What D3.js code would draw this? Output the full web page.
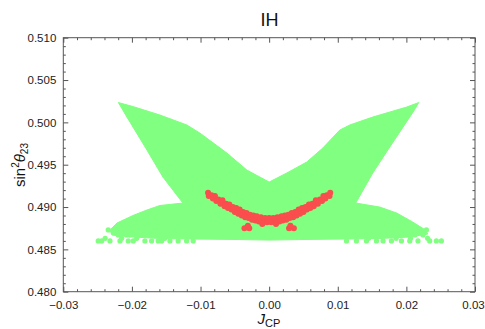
<!DOCTYPE html>
<html>
<head>
<meta charset="utf-8">
<script src="https://cdn.jsdelivr.net/npm/d3@7"></script>
<style>
  html, body { margin: 0; padding: 0; background: #fff; }
  svg { display: block; font-family: "Liberation Sans", Arial, sans-serif; }
</style>
</head>
<body>
<svg id="chart" width="485" height="329"></svg>
<script>
// ---------------- data ----------------
const xDomain = [-0.03, 0.03];
const yDomain = [0.480, 0.510];
const xMajorTicks = [-0.03, -0.02, -0.01, 0.00, 0.01, 0.02, 0.03];
const xTickLabels = ["\u22120.03", "\u22120.02", "\u22120.01", "0.00", "0.01", "0.02", "0.03"];
const yMajorTicks = [0.480, 0.485, 0.490, 0.495, 0.500, 0.505, 0.510];
const yTickLabels = ["0.480", "0.485", "0.490", "0.495", "0.500", "0.505", "0.510"];
const xMinorTicks = [-0.028,-0.026,-0.024,-0.022,-0.018,-0.016,-0.014,-0.012,-0.008,-0.006,-0.004,-0.002,
                     0.002,0.004,0.006,0.008,0.012,0.014,0.016,0.018,0.022,0.024,0.026,0.028];
const yMinorTicks = [0.481,0.482,0.483,0.484,0.486,0.487,0.488,0.489,0.491,0.492,0.493,0.494,
                     0.496,0.497,0.498,0.499,0.501,0.502,0.503,0.504,0.506,0.507,0.508,0.509];

// dense green (all scanned points) region: outline [J, sin^2 theta23]
const greenRegion = [
  [-0.02197,0.50234],[-0.01985,0.50187],[-0.01592,0.50087],[-0.01199,0.49969],[-0.01010,0.49874],
  [-0.00616,0.49638],[-0.00325,0.49437],[0.00000,0.49295],[0.00257,0.49402],[0.00549,0.49532],
  [0.00782,0.49697],[0.01029,0.49909],[0.01175,0.49969],[0.01510,0.50063],[0.01758,0.50122],
  [0.02005,0.50181],[0.02180,0.50234],[0.02107,0.50134],[0.01758,0.49709],[0.01510,0.49402],
  [0.01262,0.49047],[0.01612,0.49000],[0.01859,0.48929],[0.02092,0.48823],[0.02267,0.48734],
  [0.02311,0.48681],[0.02049,0.48646],[0.01612,0.48628],[0.01102,0.48622],[0.00447,0.48616],
  [0.00000,0.48610],[-0.00427,0.48616],[-0.01097,0.48622],[-0.01592,0.48628],[-0.01981,0.48646],
  [-0.02291,0.48669],[-0.02320,0.48728],[-0.02218,0.48811],[-0.01985,0.48900],[-0.01781,0.48965],
  [-0.01592,0.49018],[-0.01257,0.49047],[-0.01548,0.49354],[-0.01781,0.49673],[-0.02073,0.50063]
];
// sparse green points on the lower fringe
const greenFringeJ = [
  -0.02491,-0.02441,-0.02320,-0.02174,-0.02054,-0.01981,-0.01811,-0.01713,-0.01617,-0.01567,-0.01446,-0.01326,-0.01203,-0.01107,
  0.01127,0.01272,0.01418,0.01564,0.01660,0.01782,0.01928,0.02049,0.02169,0.02340,0.02437,0.02510,
  -0.02199,-0.02077,-0.02029,-0.01883,-0.01737,-0.01640,
  0.01612,0.01805,0.01951,0.02122,0.02242,
  -0.02345,-0.02248,-0.02127,0.02092,0.02194,0.02292,
  -0.02390,-0.02150,-0.01930,-0.01520,0.01450,0.01850,0.02060,0.02310
];
const greenFringeS = [
  0.4860,0.4860,0.4860,0.4860,0.4860,0.4860,0.4860,0.4860,0.4860,0.4860,0.4860,0.4860,0.4860,0.4860,
  0.4860,0.4860,0.4860,0.4860,0.4860,0.4860,0.4860,0.4860,0.4860,0.4860,0.4860,0.4860,
  0.4867,0.4867,0.4867,0.4867,0.4867,0.4867,
  0.4867,0.4867,0.4867,0.4867,0.4867,
  0.4873,0.4873,0.4873,0.4873,0.4873,0.4873,
  0.4863,0.4863,0.4863,0.4863,0.4863,0.4863,0.4863,0.4863
];

// red (constrained) points
const redJ = [
  -0.0089,-0.0084,-0.0079,-0.0074,-0.0068,-0.0063,-0.0058,-0.0053,-0.0048,-0.0043,-0.0038,-0.0033,-0.0028,-0.0023,-0.0018,-0.0012,-0.0006,0.0000,
  -0.0088,-0.0082,-0.0077,-0.0071,-0.0065,-0.0060,-0.0055,-0.0050,-0.0045,-0.0040,-0.0035,-0.0030,-0.0025,-0.0020,-0.0015,-0.0009,-0.0003,
  0.0089,0.0084,0.0079,0.0074,0.0068,0.0063,0.0058,0.0053,0.0048,0.0043,0.0038,0.0033,0.0028,0.0023,0.0018,0.0012,0.0006,
  0.0088,0.0082,0.0077,0.0071,0.0065,0.0060,0.0055,0.0050,0.0045,0.0040,0.0035,0.0030,0.0025,0.0020,0.0015,0.0009,0.0003,
  -0.0036,-0.0029,-0.0031,0.0036,0.0029,0.0031,-0.0010,0.0010
];
const redS = [
  0.4917,0.4914,0.4913,0.4909,0.4908,0.4904,0.4903,0.4900,0.4899,0.4897,0.4894,0.4893,0.4891,0.4890,0.4889,0.4888,0.4887,0.4887,
  0.4913,0.4910,0.4907,0.4904,0.4901,0.4899,0.4897,0.4894,0.4892,0.4890,0.4888,0.4887,0.4885,0.4884,0.4883,0.4882,0.4882,
  0.4917,0.4914,0.4913,0.4909,0.4908,0.4904,0.4903,0.4900,0.4899,0.4897,0.4894,0.4893,0.4891,0.4890,0.4889,0.4888,0.4887,
  0.4913,0.4910,0.4907,0.4904,0.4901,0.4899,0.4897,0.4894,0.4892,0.4890,0.4888,0.4887,0.4885,0.4884,0.4883,0.4882,0.4882,
  0.4875,0.4875,0.4878,0.4875,0.4875,0.4878,0.4880,0.4880
];

// ---------------- drawing ----------------
const GREEN = "#80ff80", RED = "#fa4d4d", FRAME = "#555";
const plot = { left: 63.3, right: 475, top: 37.7, bottom: 291.7 };
const svg = d3.select("#chart");
const x = d3.scaleLinear().domain(xDomain).range([plot.left, plot.right]);
const y = d3.scaleLinear().domain(yDomain).range([plot.bottom, plot.top]);

const g = svg.append("g");

// green region
g.append("path")
  .datum(greenRegion)
  .attr("d", d3.line().x(d => x(d[0])).y(d => y(d[1])).curve(d3.curveLinearClosed))
  .attr("fill", GREEN)
  .attr("stroke", GREEN).attr("stroke-width", 1).attr("stroke-linejoin", "round");

g.selectAll("circle.gf")
  .data(greenFringeJ.map((j, i) => [j, greenFringeS[i]]))
  .join("circle").attr("class", "gf")
  .attr("cx", d => x(d[0])).attr("cy", d => y(d[1])).attr("r", 2.6)
  .attr("fill", GREEN);

g.selectAll("circle.rd")
  .data(redJ.map((j, i) => [j, redS[i]]))
  .join("circle").attr("class", "rd")
  .attr("cx", d => x(d[0])).attr("cy", d => y(d[1])).attr("r", 3)
  .attr("fill", RED);

// frame
svg.append("rect")
  .attr("x", plot.left).attr("y", plot.top)
  .attr("width", plot.right - plot.left).attr("height", plot.bottom - plot.top)
  .attr("fill", "none").attr("stroke", FRAME).attr("stroke-width", 1);

// axes with inward ticks
function axisGroup(axis, tx, ty) {
  const a = svg.append("g").attr("transform", `translate(${tx},${ty})`).call(axis);
  a.select(".domain").remove();
  a.selectAll("line").attr("stroke", FRAME);
  a.selectAll("text").attr("fill", "#222").attr("font-size", "11.5px")
    .attr("font-family", "'Liberation Sans', Arial, sans-serif");
  return a;
}
// bottom
const bottomAxis = axisGroup(d3.axisBottom(x).tickValues(xMajorTicks).tickFormat((d, i) => xTickLabels[i])
  .tickSizeInner(-5).tickSizeOuter(0).tickPadding(9), 0, plot.bottom);
bottomAxis.selectAll("text").attr("dy", "0.71em")
  .attr("dx", (d, i) => i === xMajorTicks.length - 1 ? -2 : 0);
axisGroup(d3.axisBottom(x).tickValues(xMinorTicks).tickFormat("").tickSizeInner(-2.5).tickSizeOuter(0), 0, plot.bottom);
// top
axisGroup(d3.axisTop(x).tickValues(xMajorTicks).tickFormat("").tickSizeInner(-5).tickSizeOuter(0), 0, plot.top);
axisGroup(d3.axisTop(x).tickValues(xMinorTicks).tickFormat("").tickSizeInner(-2.5).tickSizeOuter(0), 0, plot.top);
// left
axisGroup(d3.axisLeft(y).tickValues(yMajorTicks).tickFormat((d, i) => yTickLabels[i])
  .tickSizeInner(-5).tickSizeOuter(0).tickPadding(7), plot.left, 0);
axisGroup(d3.axisLeft(y).tickValues(yMinorTicks).tickFormat("").tickSizeInner(-2.5).tickSizeOuter(0), plot.left, 0);
// right
axisGroup(d3.axisRight(y).tickValues(yMajorTicks).tickFormat("").tickSizeInner(-5).tickSizeOuter(0), plot.right, 0);
axisGroup(d3.axisRight(y).tickValues(yMinorTicks).tickFormat("").tickSizeInner(-2.5).tickSizeOuter(0), plot.right, 0);

// title
svg.append("text").attr("x", 269.5).attr("y", 26).attr("text-anchor", "middle")
  .attr("font-size", "18px").attr("fill", "#111").text("IH");

// x label (kept just inside the bottom edge)
const xl = svg.append("text").attr("x", 269).attr("y", 324).attr("text-anchor", "middle")
  .attr("font-size", "15px").attr("fill", "#111");
xl.append("tspan").attr("font-style", "italic").text("J");
xl.append("tspan").attr("font-size", "11px").attr("dy", 3).text("CP");

// y label
const yl = svg.append("text").attr("transform", "translate(25,165) rotate(-90)")
  .attr("text-anchor", "middle").attr("font-size", "15px").attr("fill", "#111");
yl.append("tspan").text("sin");
yl.append("tspan").attr("font-size", "10px").attr("dy", -6).text("2");
yl.append("tspan").attr("font-style", "italic").attr("dy", 6).text("\u03b8");
yl.append("tspan").attr("font-size", "10px").attr("dy", 3).text("23");
</script>
</body>
</html>
